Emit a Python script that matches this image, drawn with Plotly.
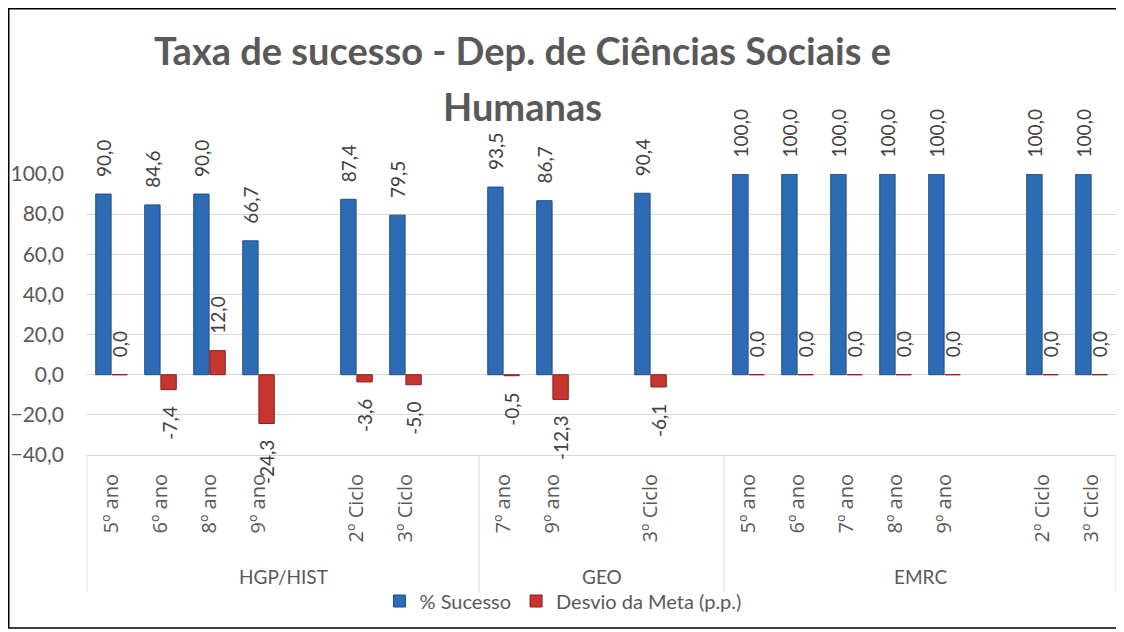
import plotly.graph_objects as go

# ---------------- data ----------------
groups = ["HGP/HIST", "GEO", "EMRC"]
hgp_cats = ["5º ano", "6º ano", "8º ano", "9º ano", "", "2º Ciclo", "3º Ciclo", ""]
hgp_sucesso = [90.0, 84.6, 90.0, 66.7, None, 87.4, 79.5, None]
hgp_desvio = [0.0, -7.4, 12.0, -24.3, None, -3.6, -5.0, None]

geo_cats = ["7º ano", "9º ano", "", "3º Ciclo", ""]
geo_sucesso = [93.5, 86.7, None, 90.4, None]
geo_desvio = [-0.5, -12.3, None, -6.1, None]

emrc_cats = ["5º ano", "6º ano", "7º ano", "8º ano", "9º ano", "", "2º Ciclo", "3º Ciclo"]
emrc_sucesso = [100.0, 100.0, 100.0, 100.0, 100.0, None, 100.0, 100.0]
emrc_desvio = [0.0, 0.0, 0.0, 0.0, 0.0, None, 0.0, 0.0]

y_ticks = [-40, -20, 0, 20, 40, 60, 80, 100]
series_names = ["% Sucesso", "Desvio da Meta (p.p.)"]
title_lines = ["Taxa de sucesso - Dep. de Ciências Sociais e", "Humanas"]

# ---------------- assemble ----------------
group_cats = [hgp_cats, geo_cats, emrc_cats]
cats = hgp_cats + geo_cats + emrc_cats
sucesso = hgp_sucesso + geo_sucesso + emrc_sucesso
desvio = hgp_desvio + geo_desvio + emrc_desvio
xs = list(range(len(cats)))

# layout geometry (screen pixels; page body has an 8px margin)
OFF = 8
WIDTH, HEIGHT = 1124 - OFF, 632 - OFF
L, R, T, B = 87, 1116, 174, 455  # plot area on screen
PW, PH = R - L, B - T


def px_x(x):
    return (x - L) / PW


def px_y(y):
    return (B - y) / PH


FONT = "Lato, Calibri, 'Open Sans', sans-serif"
TICKFONT = "'Open Sans', sans-serif"
GRAY = "#595959"
BLUE = "#2E6BB5"
BLUE_EDGE = "#1F4E8C"
RED = "#C8342F"
RED_EDGE = "#8B1E1C"


def fmt(v):
    return f"{v:.1f}".replace(".", ",")


fig = go.Figure()
fig.add_trace(go.Bar(
    x=xs, y=sucesso, name=series_names[0],
    marker=dict(color=BLUE, line=dict(color=BLUE_EDGE, width=1)),
))
fig.add_trace(go.Bar(
    x=xs, y=desvio, name=series_names[1],
    marker=dict(color=RED, line=dict(color=RED_EDGE, width=1)),
))

bar_w = (1 - 0.34) / 2
annotations = []
for series, off in ((sucesso, -bar_w / 2), (desvio, bar_w / 2)):
    for x, v in zip(xs, series):
        if v is None:
            continue
        neg = v < 0
        annotations.append(dict(
            x=x + off, y=v, xref="x", yref="y",
            text=fmt(v), showarrow=False, textangle=-90,
            font=dict(family=FONT, size=19, color="#404040"),
            xanchor="center", yanchor="top" if neg else "bottom",
            yshift=-15 if neg else 15,
        ))

# group labels and dividers
shapes = []
start = 0
boundaries = [-0.5]
for g, gc in zip(groups, group_cats):
    end = start + len(gc)
    annotations.append(dict(
        x=(start + end - 1) / 2, y=px_y(576), xref="x", yref="paper",
        text=g, showarrow=False, xanchor="center", yanchor="middle",
        font=dict(family=FONT, size=19, color=GRAY),
    ))
    boundaries.append(end - 0.5)
    start = end
for bx in boundaries:
    shapes.append(dict(type="line", xref="x", yref="paper",
                       x0=bx, x1=bx, y0=0, y1=px_y(592),
                       line=dict(color="#D9D9D9", width=1)))

# title (two centred lines)
for line, ymid in zip(title_lines, (50, 106)):
    annotations.append(dict(
        x=px_x(522), y=px_y(ymid), xref="paper", yref="paper",
        text="<b>" + line + "</b>", showarrow=False,
        xanchor="center", yanchor="middle",
        font=dict(family=FONT, size=38, color=GRAY),
    ))

# outer border
shapes.append(dict(type="rect", xref="paper", yref="paper",
                   x0=px_x(OFF + 0.75), x1=px_x(1118), y0=px_y(628), y1=px_y(OFF + 0.75),
                   line=dict(color="#000000", width=1.5)))

fig.update_layout(
    width=WIDTH, height=HEIGHT,
    margin=dict(l=L - OFF, r=(1124 - R), t=T - OFF, b=HEIGHT - (B - OFF),
                autoexpand=False),
    paper_bgcolor="white", plot_bgcolor="white",
    barmode="group", bargap=0.34, bargroupgap=0.05,
    separators=", ",
    showlegend=True,
    legend=dict(orientation="h", x=px_x(563), y=px_y(601),
                xanchor="center", yanchor="middle",
                font=dict(family=FONT, size=20, color=GRAY),
                itemwidth=30, tracegroupgap=0, bgcolor="rgba(0,0,0,0)"),
    annotations=annotations, shapes=shapes,
    font=dict(family=FONT, color=GRAY),
)
fig.update_xaxes(
    range=[-0.5, len(cats) - 0.5], tickmode="array", tickvals=xs, ticktext=cats,
    tickangle=-90, tickfont=dict(family=TICKFONT, size=20, color=GRAY),
    showgrid=False, zeroline=False, showline=True, linecolor="#D9D9D9",
    ticks="", ticklabelstandoff=10, automargin=False,
)
fig.update_yaxes(
    range=[-40, 100], tickmode="array", tickvals=y_ticks, tickformat=".1f",
    tickfont=dict(family=FONT, size=21, color=GRAY),
    showgrid=True, gridcolor="#D9D9D9", gridwidth=1,
    zeroline=True, zerolinecolor="#D9D9D9", zerolinewidth=1,
    showline=False, ticks="", ticklabelstandoff=22, automargin=False,
)

fig.write_html("out.html")
